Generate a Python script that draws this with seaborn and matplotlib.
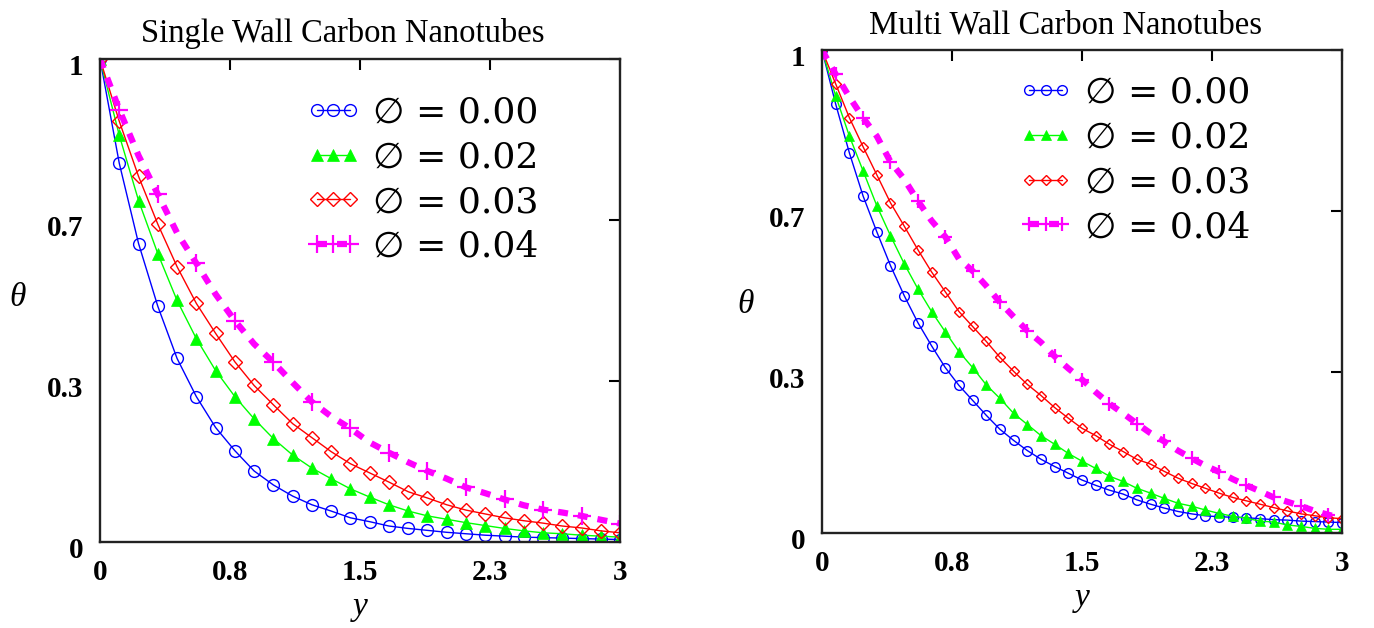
import numpy as np
import pandas as pd
import seaborn as sns
import matplotlib.pyplot as plt
from matplotlib.transforms import ScaledTranslation

# y grid of each panel
y_swcnt = np.linspace(0, 3, 28)
y_mwcnt = np.linspace(0, 3, 39)

# theta for Single Wall Carbon Nanotubes
sw_000 = [1.0, 0.784, 0.618, 0.488, 0.380, 0.301, 0.237, 0.189, 0.147, 0.118, 0.095, 0.077, 0.064, 0.050,
          0.042, 0.033, 0.028, 0.024, 0.020, 0.017, 0.014, 0.012, 0.010, 0.009, 0.008, 0.007, 0.006, 0.005]
sw_002 = [1.0, 0.842, 0.707, 0.597, 0.500, 0.421, 0.355, 0.301, 0.255, 0.214, 0.180, 0.153, 0.131, 0.110,
          0.093, 0.077, 0.064, 0.054, 0.047, 0.040, 0.034, 0.028, 0.023, 0.019, 0.017, 0.014, 0.012, 0.010]
sw_003 = [1.0, 0.871, 0.757, 0.658, 0.570, 0.494, 0.432, 0.373, 0.324, 0.284, 0.245, 0.216, 0.187, 0.162,
          0.143, 0.124, 0.104, 0.091, 0.077, 0.066, 0.058, 0.050, 0.044, 0.039, 0.033, 0.029, 0.023, 0.019]
sw_004 = [1.0, 0.895, 0.800, 0.720, 0.640, 0.577, 0.513, 0.458, 0.410, 0.372, 0.330, 0.290, 0.260, 0.235,
          0.206, 0.185, 0.165, 0.147, 0.131, 0.113, 0.101, 0.088, 0.076, 0.067, 0.061, 0.054, 0.046, 0.038]

# theta for Multi Wall Carbon Nanotubes
mw_000 = [1.0, 0.888, 0.787, 0.698, 0.624, 0.554, 0.492, 0.436, 0.388, 0.343, 0.306, 0.275, 0.244, 0.215,
          0.192, 0.171, 0.153, 0.138, 0.124, 0.110, 0.099, 0.089, 0.081, 0.069, 0.060, 0.052, 0.045, 0.040,
          0.036, 0.034, 0.033, 0.032, 0.030, 0.028, 0.027, 0.025, 0.024, 0.023, 0.022]
mw_002 = [1.0, 0.905, 0.822, 0.750, 0.678, 0.616, 0.558, 0.506, 0.459, 0.417, 0.376, 0.343, 0.307, 0.279,
          0.248, 0.225, 0.202, 0.184, 0.165, 0.149, 0.134, 0.118, 0.107, 0.093, 0.083, 0.072, 0.062, 0.056,
          0.048, 0.041, 0.035, 0.031, 0.025, 0.023, 0.017, 0.014, 0.010, 0.008, 0.008]
mw_003 = [1.0, 0.930, 0.860, 0.800, 0.742, 0.684, 0.636, 0.587, 0.541, 0.500, 0.459, 0.428, 0.397, 0.364,
          0.335, 0.308, 0.285, 0.260, 0.238, 0.217, 0.202, 0.184, 0.169, 0.153, 0.143, 0.128, 0.114, 0.103,
          0.093, 0.083, 0.074, 0.067, 0.060, 0.053, 0.046, 0.040, 0.036, 0.032, 0.030]
mw_004 = [1.0, 0.950, 0.903, 0.860, 0.822, 0.769, 0.733, 0.688, 0.647, 0.614, 0.568, 0.543, 0.512, 0.478,
          0.448, 0.419, 0.395, 0.366, 0.341, 0.318, 0.292, 0.268, 0.248, 0.227, 0.207, 0.190, 0.171, 0.155,
          0.140, 0.127, 0.112, 0.099, 0.087, 0.074, 0.065, 0.056, 0.046, 0.038, 0.031]

phi_labels = ['∅ = 0.00', '∅ = 0.02', '∅ = 0.03', '∅ = 0.04']
titles = ['Single Wall Carbon Nanotubes', 'Multi Wall Carbon Nanotubes']
x_ticks = [0, 0.75, 1.5, 2.25, 3]
x_ticklabels = ['0', '0.8', '1.5', '2.3', '3']
y_ticks = [0, 1 / 3, 2 / 3, 1]
y_ticklabels = ['0', '0.3', '0.7', '1']

sns.set_style('white')
plt.rcParams['font.family'] = ['Liberation Serif', 'DejaVu Serif', 'DejaVu Sans']
plt.rcParams['text.color'] = 'black'
plt.rcParams['axes.labelcolor'] = 'black'

fig = plt.figure(figsize=(13.74, 6.28), dpi=100)
ax1 = fig.add_axes([0.0728, 0.137, 0.3785, 0.769])
ax2 = fig.add_axes([0.5983, 0.151, 0.3785, 0.769])


def draw_panel(ax, y, series, msize, title, title_x, theta_pos, leg_anchor):
    styles = [
        dict(color='#0000ff', marker='o', mfc='none', mec='#0000ff', mew=1.0, ms=msize, lw=1.0),
        dict(color='#00ff00', marker='^', mfc='#00ff00', mec='#00ff00', mew=0.5, ms=msize, lw=1.0),
        dict(color='#ff0000', marker='D', mfc='none', mec='#ff0000', mew=1.0, ms=msize * 0.8, lw=1.0),
    ]
    for vals, st, lab in zip(series[:3], styles, phi_labels[:3]):
        sns.lineplot(x=y, y=vals, ax=ax, label=lab, **st)
    # magenta: thick dotted trace with plus markers
    sns.lineplot(x=y, y=series[3], ax=ax, label=phi_labels[3], color='#ff00ff', lw=4.5,
                 linestyle=(0, (1.6, 1.6)), marker='+', ms=msize * 1.5, mew=1.6,
                 mec='#ff00ff', markevery=(1, 2))

    ax.set_xlim(0, 3)
    ax.set_ylim(0, 1)
    ax.set_xticks(x_ticks)
    ax.set_xticklabels(x_ticklabels)
    ax.set_yticks(y_ticks)
    ax.set_yticklabels(y_ticklabels)
    ax.tick_params(direction='in', length=8, width=1.5, top=True, right=True,
                   labelsize=21, colors='black')
    ax.tick_params(axis='x', pad=12)
    ax.tick_params(axis='y', pad=12)
    shift = ScaledTranslation(0, -4 / 72, fig.dpi_scale_trans)
    for lab in ax.get_yticklabels():
        lab.set_transform(lab.get_transform() + shift)
    for lab in ax.get_xticklabels() + ax.get_yticklabels():
        lab.set_fontweight('bold')
    for sp in ax.spines.values():
        sp.set_color('#222222')
        sp.set_linewidth(1.7)
    ax.set_xlabel('y', fontsize=24, style='italic', labelpad=4)
    ax.set_ylabel('θ', fontsize=24, style='italic', rotation=0, va='center', ha='center')
    ax.yaxis.set_label_coords(*theta_pos)
    ax.set_title(title, fontsize=23.5, pad=12, x=title_x, color='black')
    ax.legend(loc='upper left', bbox_to_anchor=leg_anchor, frameon=False, numpoints=3,
              handlelength=1.5, handletextpad=0.35, labelspacing=0.3, borderpad=0,
              labelcolor='black',
              prop={'family': ['DejaVu Serif', 'DejaVu Sans'], 'size': 26})


draw_panel(ax1, y_swcnt, [sw_000, sw_002, sw_003, sw_004], 8.5, titles[0], 0.467,
           (-0.158, 0.505), (0.362, 0.962))
draw_panel(ax2, y_mwcnt, [mw_000, mw_002, mw_003, mw_004], 7, titles[1], 0.469,
           (-0.148, 0.472), (0.343, 0.985))

fig.savefig('out.png', dpi=100)
